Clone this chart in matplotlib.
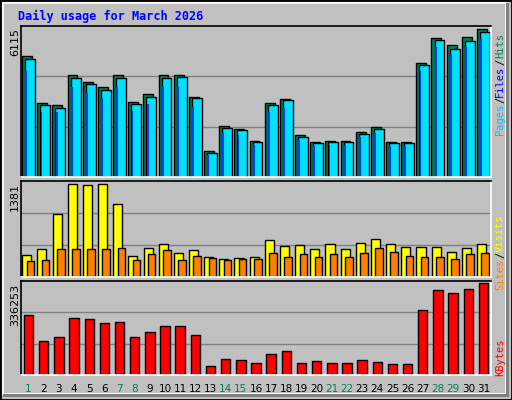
import matplotlib
matplotlib.use("Agg")
import matplotlib.pyplot as plt
from matplotlib.patches import Rectangle
import numpy as np

# ---- data ----
days = list(range(1, 32))
weekend = [1, 7, 8, 14, 15, 21, 22, 28, 29]
hits = [4900, 2997, 2916, 4131, 3848, 3645, 4131, 3038, 3362, 4131, 4131, 3240, 1053, 2066, 1944, 1458,
        2997, 3159, 1701, 1418, 1458, 1458, 1823, 2025, 1418, 1418, 4617, 5630, 5346, 5670, 5994]
files = [4780, 2920, 2800, 4000, 3780, 3540, 4000, 2950, 3240, 4000, 4050, 3180, 960, 1990, 1900, 1400,
         2920, 3100, 1640, 1360, 1420, 1420, 1760, 1960, 1380, 1380, 4540, 5540, 5200, 5510, 5880]
pages = [4290, 2640, 2630, 3640, 3400, 3200, 3640, 2680, 2960, 3640, 3640, 2850, 900, 1800, 1700, 1280,
         2640, 2780, 1500, 1250, 1280, 1280, 1600, 1780, 1250, 1250, 4300, 5250, 4980, 5280, 5600]
visits = [317, 403, 907, 1338, 1324, 1338, 1050, 302, 417, 475, 345, 389, 288, 259, 273, 288,
          532, 446, 460, 403, 475, 403, 489, 547, 475, 432, 432, 432, 360, 417, 475]
sites = [230, 245, 403, 403, 403, 403, 417, 245, 331, 389, 245, 302, 273, 245, 259, 259,
         345, 288, 331, 288, 331, 288, 345, 417, 360, 302, 288, 288, 259, 331, 345]
kbytes = [213344, 122944, 137408, 202496, 198880, 184416, 188032, 137408, 155488, 173568, 173568,
          144640, 32544, 57856, 54240, 43392, 75936, 86784, 43392, 50624, 43392, 43392, 54240,
          47008, 39776, 39776, 231424, 303744, 292896, 307360, 329056]
max_hits, max_visits, max_kbytes = 6115, 1381, 336253

W, H = 512, 400
BG = "#c0c0c0"
fig = plt.figure(figsize=(W / 100, H / 100), dpi=100, facecolor=BG)

# outer bevel
fig.patches.append(Rectangle((0, 0), 1, 1, transform=fig.transFigure, fill=False, ec="black", lw=2))
fig.patches.append(Rectangle((3 / W, 6 / H), (W - 9) / W, (H - 9) / H, transform=fig.transFigure,
                             fill=False, ec="white", lw=1.2))
fig.patches.append(Rectangle((3 / W, 3 / H), (W - 6) / W, 3 / H, transform=fig.transFigure,
                             fc="#808080", ec="none"))
fig.patches.append(Rectangle(((W - 6) / W, 3 / H), 3 / W, (H - 6) / H,
                             transform=fig.transFigure, fc="#808080", ec="none"))

x0, x1 = 21, 491


def make_ax(top, bottom, ymax):
    ax = fig.add_axes([x0 / W, 1 - bottom / H, (x1 - x0) / W, (bottom - top) / H])
    ax.set_facecolor(BG)
    ax.set_xlim(0.5, 31.5)
    ax.set_ylim(0, ymax)
    ax.set_xticks([])
    ax.set_yticks([])
    for t in (ymax / 3, 2 * ymax / 3):
        ax.axhline(t, color="#808080", lw=1, zorder=0)
    for s in ax.spines.values():
        s.set_color("black")
        s.set_linewidth(1.2)
    ax.spines["right"].set_color("white")
    ax.spines["bottom"].set_color("white")
    return ax


x = np.array(days)

ax1 = make_ax(26, 177, max_hits)
ax1.bar(x - 0.1, hits, width=0.65, color="#00805c", ec="black", lw=1)
ax1.bar(x + 0.1, files, width=0.65, color="#00e0ff", ec="black", lw=1)
ax1.bar(x - 0.15, pages, width=0.12, color="#0040ff", ec="none")

ax2 = make_ax(181, 277, max_visits)
ax2.bar(x - 0.12, visits, width=0.6, color="#ffff00", ec="black", lw=1)
ax2.bar(x + 0.12, sites, width=0.5, color="#ff8000", ec="black", lw=1)

ax3 = make_ax(281, 375, max_kbytes)
ax3.bar(x, kbytes, width=0.62, color="#ff0000", ec="black", lw=1)

# title
fig.text(18 / W, 1 - 16 / H, "Daily usage for March 2026", color="#0000ff", family="DejaVu Sans Mono",
         weight="bold", fontsize=8.5, va="center")

# max labels on the left
for top, val in ((26, max_hits), (181, max_visits), (282, max_kbytes)):
    fig.text(15 / W, 1 - (top + 2) / H, str(val), rotation=90, ha="center", va="top", fontsize=8)


# coloured labels on the right, built bottom-up
def side_label(parts, bottom_px, fs=7.5):
    y = bottom_px
    step = 6.4
    for txt, col in parts:
        fig.text(500 / W, 1 - y / H, txt, rotation=90, ha="center", va="bottom", color=col,
                 family="DejaVu Sans Mono", fontsize=fs)
        y -= step * len(txt)


side_label([("Pages", "#00c0ff"), ("/", "#000000"), ("Files", "#0000ff"), ("/", "#000000"),
            ("Hits", "#00805c")], 135)
side_label([("Sites", "#ff8000"), ("/", "#000000"), ("Visits", "#ffff00")], 290)
side_label([("KBytes", "#ff0000")], 376)

# day labels
for d in days:
    px = x0 + (d - 0.5) / 31 * (x1 - x0)
    fig.text(px / W, 1 - 389 / H, str(d), ha="center", va="center", fontsize=7.5,
             color="#00805c" if d in weekend else "black")

fig.savefig("out.png", dpi=100, facecolor=BG)
